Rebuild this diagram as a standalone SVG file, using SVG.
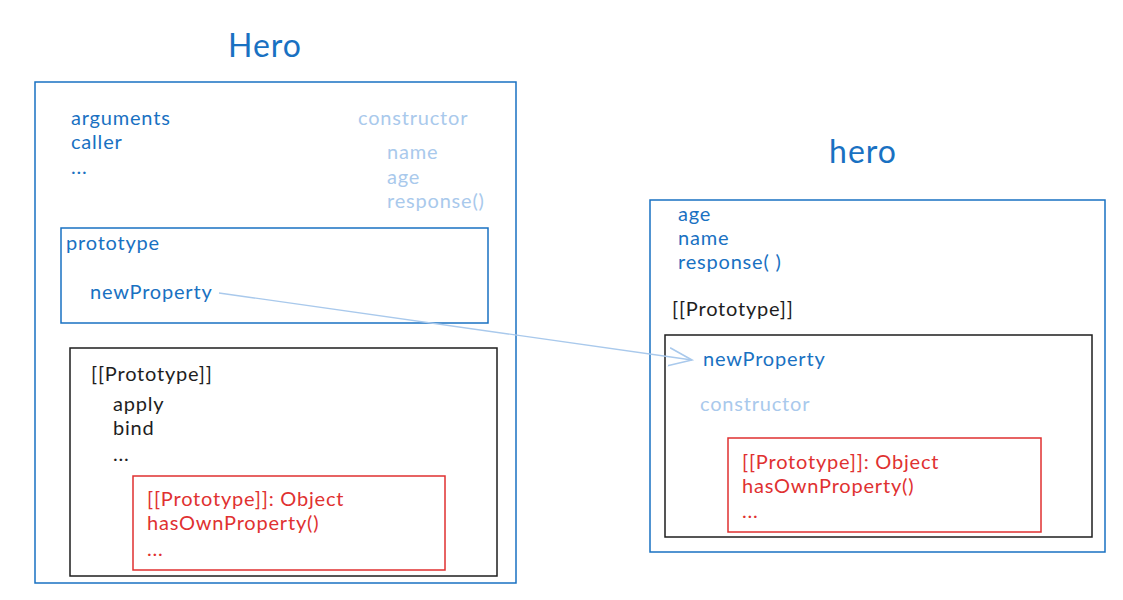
<svg xmlns="http://www.w3.org/2000/svg" width="1123" height="600" viewBox="0 0 1123 600">
<style>
text{font-family:"Lato","Liberation Sans",sans-serif;font-size:20px;letter-spacing:0.8px}
.b{fill:#1971c2}
.l{fill:#a9c9ec}
.k{fill:#1e1e1e}
.r{fill:#e03131}
.t{font-size:32px;letter-spacing:1px;fill:#1971c2}
.bx{fill:none;stroke-width:1.5}
</style>
<defs>
<marker id="ah" viewBox="0 0 20 20" refX="18" refY="10" markerWidth="26" markerHeight="26" markerUnits="userSpaceOnUse" orient="auto">
<path d="M0,3 L18,10 L0,17" fill="none" stroke="#a9c9ec" stroke-width="1.2"/>
</marker>
</defs>
<rect width="1123" height="600" fill="#fff"/>
<g id="Hero">
<text class="t" x="265" y="57" text-anchor="middle">Hero</text>
<rect class="bx" x="35" y="82" width="481" height="501" stroke="#1971c2"/>
<text class="b" x="71" y="125">arguments</text>
<text class="b" x="71" y="149">caller</text>
<text class="b" x="71" y="174">...</text>
<text class="l" x="358" y="125">constructor</text>
<text class="l" x="387" y="159">name</text>
<text class="l" x="387" y="184">age</text>
<text class="l" x="387" y="208">response()</text>
</g>
<g id="Hero-prototype">
<rect class="bx" x="61" y="228" width="427" height="95" stroke="#1971c2"/>
<text class="b" x="66" y="250">prototype</text>
<text class="b" x="90" y="299">newProperty</text>
</g>
<g id="Hero-proto-chain">
<rect class="bx" x="70" y="348" width="427" height="228" stroke="#1e1e1e"/>
<text class="k" x="91" y="381">[[Prototype]]</text>
<text class="k" x="113" y="411">apply</text>
<text class="k" x="113" y="435">bind</text>
<text class="k" x="113" y="461">...</text>
</g>
<g id="Hero-object">
<rect class="bx" x="133" y="476" width="312" height="94" stroke="#e03131"/>
<text class="r" x="147" y="506">[[Prototype]]: Object</text>
<text class="r" x="147" y="530">hasOwnProperty()</text>
<text class="r" x="147" y="556">...</text>
</g>
<g id="hero">
<text class="t" x="863" y="163" text-anchor="middle">hero</text>
<rect class="bx" x="650" y="200" width="455" height="352" stroke="#1971c2"/>
<text class="b" x="678" y="221">age</text>
<text class="b" x="678" y="245">name</text>
<text class="b" x="678" y="269">response( )</text>
<text class="k" x="672" y="316">[[Prototype]]</text>
</g>
<g id="hero-proto">
<rect class="bx" x="665" y="335" width="427" height="202" stroke="#1e1e1e"/>
<text class="b" x="703" y="366">newProperty</text>
<text class="l" x="700" y="411">constructor</text>
</g>
<g id="hero-object">
<rect class="bx" x="728" y="438" width="313" height="94" stroke="#e03131"/>
<text class="r" x="742" y="469">[[Prototype]]: Object</text>
<text class="r" x="742" y="493">hasOwnProperty()</text>
<text class="r" x="742" y="518">...</text>
</g>
<g id="connectors">
<line x1="219" y1="293" x2="692" y2="360" stroke="#a9c9ec" stroke-width="1.3" marker-end="url(#ah)"/>
</g>
</svg>
